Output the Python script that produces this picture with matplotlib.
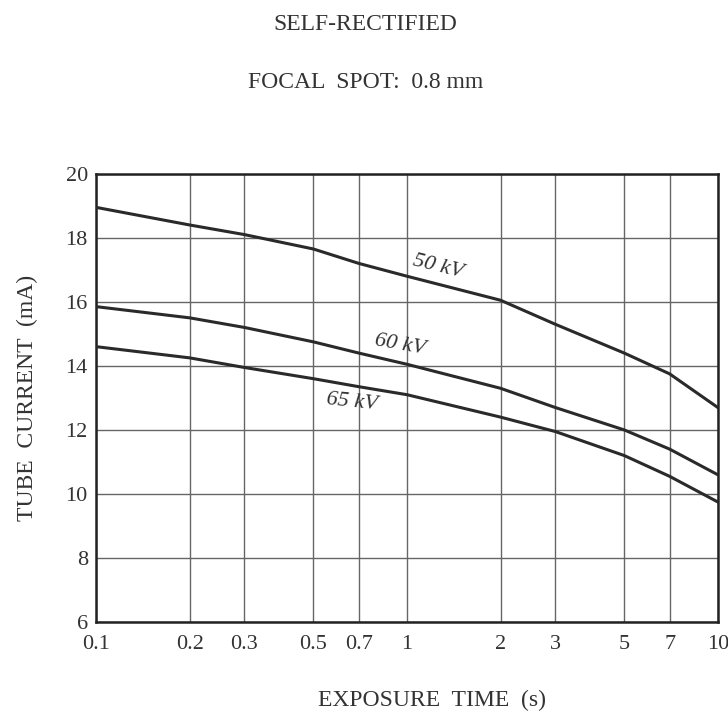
import matplotlib
matplotlib.use("Agg")
import matplotlib.pyplot as plt
import numpy as np

plt.rcParams['font.family'] = ['Liberation Serif', 'DejaVu Serif']

# Data
exposure_time = [0.1, 0.2, 0.3, 0.5, 0.7, 1, 2, 3, 5, 7, 10]
current_50kv = [18.95, 18.4, 18.1, 17.65, 17.2, 16.8, 16.05, 15.3, 14.4, 13.75, 12.7]
current_60kv = [15.85, 15.5, 15.2, 14.75, 14.4, 14.05, 13.3, 12.7, 12.0, 11.4, 10.6]
current_65kv = [14.6, 14.25, 13.95, 13.6, 13.35, 13.1, 12.4, 11.95, 11.2, 10.55, 9.75]
x_ticks = [0.1, 0.2, 0.3, 0.5, 0.7, 1, 2, 3, 5, 7, 10]
x_tick_labels = ["0.1", "0.2", "0.3", "0.5", "0.7", "1", "2", "3", "5", "7", "10"]
y_ticks = [6, 8, 10, 12, 14, 16, 18, 20]

fig = plt.figure(figsize=(7.28, 7.15), dpi=100)
ax = fig.add_axes([0.132, 0.13, 0.854, 0.627])

ax.set_xscale('log')
ax.set_xlim(0.1, 10)
ax.set_ylim(6, 20)

for xv in x_ticks:
    ax.axvline(xv, color='#666666', lw=1.0, zorder=1)
for yv in y_ticks:
    ax.axhline(yv, color='#666666', lw=1.0, zorder=1)

lc = '#2a2a2a'
ax.plot(exposure_time, current_50kv, color=lc, lw=2.2, zorder=3)
ax.plot(exposure_time, current_60kv, color=lc, lw=2.2, zorder=3)
ax.plot(exposure_time, current_65kv, color=lc, lw=2.2, zorder=3)

lab_kw = dict(fontsize=16, style='italic', color='#333333', ha='center', va='center')
ax.text(1.26, 17.1, "50 kV", rotation=-14, **lab_kw)
ax.text(0.95, 14.66, "60 kV", rotation=-10, **lab_kw)
ax.text(0.665, 12.88, "65 kV", rotation=-6, **lab_kw)

ax.set_xticks(x_ticks)
ax.set_xticklabels(x_tick_labels)
ax.xaxis.set_minor_locator(matplotlib.ticker.NullLocator())
ax.set_yticks(y_ticks)
ax.tick_params(axis='both', length=0, labelsize=16, colors='#333333')
ax.tick_params(axis='y', pad=6)
ax.tick_params(axis='x', pad=9)

for s in ax.spines.values():
    s.set_color('#222222')
    s.set_linewidth(1.8)

ax.set_ylabel("TUBE  CURRENT  (mA)", fontsize=17, color='#333333', labelpad=20)
fig.text(0.593, 0.021, "EXPOSURE  TIME  (s)", ha='center', va='center',
         fontsize=17, color='#333333')

fig.text(0.502, 0.966, "SELF-RECTIFIED", ha='center', va='center', fontsize=17, color='#333333')
fig.text(0.502, 0.884, "FOCAL  SPOT:  0.8 mm", ha='center', va='center', fontsize=17, color='#333333')

fig.savefig("out.png", dpi=100)
